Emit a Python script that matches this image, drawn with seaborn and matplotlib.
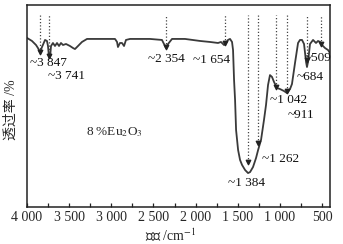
import numpy as np
import pandas as pd
import matplotlib
matplotlib.use("Agg")
import matplotlib.pyplot as plt
import seaborn as sns

# ---- data ----
wavenumber = [4000, 3941, 3893, 3870, 3846, 3822, 3786, 3763, 3751, 3739, 3727, 3715,
              3692, 3668, 3644, 3620, 3597, 3573, 3537, 3490, 3454, 3431, 3395, 3348,
              3288, 3134, 2956, 2932, 2921, 2897, 2873, 2849, 2826, 2778, 2541, 2399,
              2375, 2351, 2327, 2280, 2126, 1948, 1829, 1734, 1699, 1663, 1639, 1616,
              1592, 1568, 1556, 1544, 1532, 1520, 1496, 1473, 1449, 1413, 1378, 1354,
              1319, 1283, 1259, 1224, 1189, 1165, 1141, 1118, 1094, 1070, 1034, 999,
              951, 916, 880, 857, 821, 785, 762, 738, 714, 690, 679, 667, 643, 607,
              572, 548, 524, 501, 465, 429, 406]
transmittance = [83.7, 82.2, 80.2, 78.7, 76.7, 79.2, 82.7, 82.2, 79.7, 74.3, 73.8, 79.7,
                 81.2, 79.7, 81.2, 79.7, 81.2, 80.2, 80.7, 79.7, 78.7, 78.2, 79.7, 81.7,
                 83.2, 83.2, 83.2, 81.7, 79.2, 81.2, 81.2, 79.7, 82.7, 83.2, 83.2, 82.7,
                 80.7, 78.7, 80.7, 83.2, 83.2, 82.2, 81.7, 81.2, 81.7, 80.2, 81.2, 82.7,
                 83.2, 81.7, 77.7, 62.9, 53.0, 38.1, 28.2, 23.3, 20.8, 18.3, 16.8, 17.3,
                 19.8, 24.3, 28.2, 33.2, 43.1, 50.5, 60.4, 65.3, 64.4, 61.9, 58.9, 58.4,
                 57.4, 56.4, 58.4, 60.9, 71.3, 81.2, 82.7, 82.7, 80.7, 71.8, 69.3, 71.8,
                 80.7, 82.7, 81.2, 82.2, 81.7, 80.2, 78.7, 77.7, 76.2]

peaks = [3847, 3741, 2354, 1654, 1384, 1262, 1042, 911, 684, 509]
peak_tip = [76.7, 74.8, 79.2, 81.2, 22.3, 31.7, 59.4, 57.4, 72.8, 80.7]
peak_labels = ["~3 847", "~3 741", "~2 354", "~1 654", "~1 384", "~1 262",
               "~1 042", "~911", "~684", "~509"]
label_x = [3964, 3751, 2565, 2031, 1616, 1212, 1117, 904, 797, 702]
label_y = [71.3, 64.9, 73.3, 72.8, 11.9, 23.8, 53.0, 45.5, 64.4, 73.8]

xticks = [4000, 3500, 3000, 2500, 2000, 1500, 1000, 500]
xtick_labels = ["4 000", "3 500", "3 000", "2 500", "2 000", "1 500", "1 000", "500"]
sample_label = "8 %Eu$_2$O$_3$"

# ---- styling ----
sns.set_style("ticks")
plt.rcParams['font.family'] = ['Liberation Serif', 'Noto Sans CJK SC']
plt.rcParams['mathtext.fontset'] = 'stix'

fig = plt.figure(figsize=(3.43, 2.44), dpi=100)
ax = fig.add_axes([0.0787, 0.1516, 0.8834, 0.8279])

df = pd.DataFrame({"w": wavenumber, "T": transmittance})
sns.lineplot(data=df, x="w", y="T", ax=ax, color="#3a3a3a", lw=1.3,
             sort=False, estimator=None)

ax.vlines(peaks, peak_tip, 95, colors="#444444", linestyles=(0, (1, 1.6)), lw=0.9)
ax.scatter(peaks, peak_tip, marker="v", s=10, color="#222222", zorder=5)

for lx, ly, t in zip(label_x, label_y, peak_labels):
    ax.text(lx, ly, t, ha="left", va="center", fontsize=9.5, color="#111111")

ax.text(0.29, 0.37, sample_label, transform=ax.transAxes, ha="center", va="center",
        fontsize=9.5)

ax.set_xlim(4000, 406)
ax.set_ylim(0, 100)
ax.set_xticks(xticks)
ax.set_xticklabels(xtick_labels, fontsize=10)
ax.set_xticks(np.arange(3750, 400, -250), minor=True)
ax.set_yticks([])
ax.tick_params(axis='x', which='both', direction='in', length=3, width=0.9,
               pad=3, top=False, color="#222222")

for s in ax.spines.values():
    s.set_linewidth(1.1)
    s.set_color("#222222")

ax.set_xlabel("波数 /cm$^{-1}$", fontsize=10)
ax.set_ylabel("透过率 /%", fontsize=10)
ax.xaxis.set_label_coords(0.475, -0.1)
ax.yaxis.set_label_coords(-0.03, 0.48)

fig.savefig("out.png", dpi=100)
